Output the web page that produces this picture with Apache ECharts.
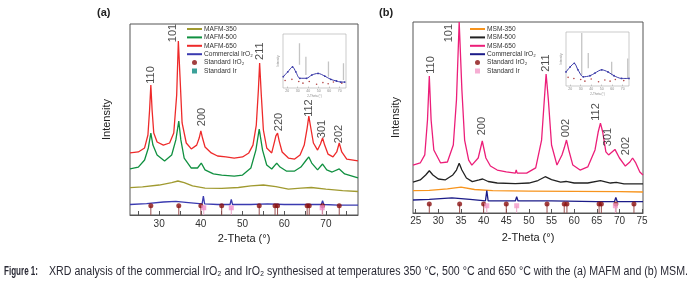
<!DOCTYPE html>
<html><head><meta charset="utf-8">
<script src="https://cdn.jsdelivr.net/npm/echarts@6/dist/echarts.min.js"></script>
<style>html,body{margin:0;padding:0;background:#fff}#c{width:694px;height:289px}</style>
</head><body><div id="c"></div>
<script>
// ---------- DATA (2-Theta in degrees, intensity in a.u.) ----------
// Panel (a) MAFM
const mafm350 = [[23,143],[26,147],[30,157],[33,170],[34.5,178],[36,170],[38,152],[41,141],[45,139],[49,144],[52,152],[55,157],[58,149],[61,136],[64,141],[66.5,144],[70,136],[74,128],[77.7,123]];
const mafm500 = [[23,241],[25,251],[26.5,288],[27.4,351],[28,429],[28.5,366],[29.5,314],[31.3,283],[33,314],[34,393],[34.7,492],[35.2,393],[36,298],[37.7,246],[39.2,246],[40.1,272],[41,236],[43,215],[45,209],[48,204],[50,209],[52,246],[53.2,340],[54,450],[54.8,340],[55.8,262],[57,241],[58.2,272],[59,251],[60.5,230],[62.5,230],[64,251],[65.3,288],[65.9,304],[66.6,272],[68,236],[69.2,267],[70.2,236],[71.5,225],[73.2,241],[74.5,215],[77.7,194]];
const mafm650 = [[23,325],[25,330],[26.5,351],[27.3,419],[27.7,550],[28,681],[28.3,550],[28.7,429],[29.5,382],[31,366],[32.5,377],[33.5,429],[34.2,628],[34.6,911],[35,723],[35.5,482],[36.5,377],[37.7,346],[39,366],[39.6,403],[40,440],[40.4,403],[41,356],[42.5,325],[44,309],[46,304],[48,298],[50,304],[51.5,325],[52.5,366],[53.3,471],[53.8,654],[54.1,796],[54.5,628],[55,445],[55.8,351],[57,325],[57.7,387],[58,414],[58.4,429],[58.8,387],[59.5,330],[61,298],[62.5,293],[63.8,314],[64.8,366],[65.5,455],[65.9,518],[66.3,466],[67,377],[68,340],[68.7,372],[69.2,403],[69.7,366],[70.5,319],[71.7,304],[72.6,330],[73.2,377],[73.8,330],[75,293],[77.7,283]];
const commercialA = [[23,55],[27,60],[31,68],[34,71],[37,65],[40.3,58],[40.6,99],[40.9,58],[44,55],[47,55],[47.3,82],[47.6,55],[52,55],[56,58],[60,55],[65,55],[68.9,55],[69.2,75],[69.5,55],[73,52],[77.7,52]];
const stdIrO2A = [[28.0,49],[34.7,49],[40.0,49],[45.0,49],[54.0,49],[57.8,49],[58.4,49],[65.5,49],[66.0,49],[69.2,49],[73.2,49]];
const stdIrA = [[40.7,38],[47.3,38],[69.1,38]];
const hklA = [['110',28.0,733],['101',33.3,953],['200',40.3,513],['211',54.2,858],['220',58.7,487],['112',65.9,560],['301',69.0,450],['202',73.2,424]];

// Panel (b) MSM
const msm350 = [[24.4,117],[28,118],[32,126],[35,135],[38,123],[42,117],[50,115],[60,113],[70,112],[75.2,110]];
const msm500 = [[24.4,162],[26,173],[27.2,199],[28,221],[28.8,199],[30,178],[31.5,173],[33.2,199],[34,225],[34.6,260],[35.2,225],[36.2,183],[37.5,164],[39,173],[39.8,178],[41,165],[43,157],[47,154],[50,157],[52,170],[53.6,190],[55,175],[57,162],[58.2,165],[60,157],[63,157],[65.8,169],[68,157],[69.3,160],[71,152],[75.2,152]];
const msm650 = [[24.4,251],[26,262],[27,304],[27.6,487],[28,717],[28.4,487],[29,330],[30.5,262],[32,267],[33.3,356],[34,592],[34.6,1000],[35.2,644],[35.8,382],[36.7,277],[37.4,251],[38.8,288],[39.7,377],[40.5,288],[41.5,246],[43,225],[45,215],[47,209],[47.2,225],[47.4,209],[49.5,209],[51.5,236],[52.8,382],[53.4,592],[53.8,728],[54.3,592],[55,356],[56.2,251],[57.3,304],[57.8,340],[58.3,382],[58.8,330],[59.7,251],[61.3,225],[63,241],[64.6,330],[65.3,424],[65.8,471],[66.3,424],[67,320],[67.6,304],[69,333],[70,288],[71.3,246],[72.3,267],[72.9,288],[73.6,262],[74.5,215],[75.2,199]];
const commercialB = [[24.4,68],[28,71],[33,79],[37,71],[40.4,63],[40.7,117],[41,63],[44,63],[47,63],[47.3,85],[47.6,63],[55,63],[65,60],[68.9,60],[69.2,82],[69.5,60],[75.2,60]];
const stdIrO2B = [[28.0,47],[34.7,47],[40.0,47],[45.0,47],[54.0,47],[57.8,47],[58.4,47],[65.5,47],[66.0,47],[69.2,47],[73.2,47]];
const stdIrB = [[40.7,38],[47.3,38],[69.1,38]];
const hklB = [['110',28.3,775],['101',32.4,942],['200',39.7,455],['211',53.8,785],['002',58.2,445],['112',64.8,529],['301',67.5,398],['202',71.5,351]];

// Insets (commercial IrO2 pattern)
const insetA = [[16.3,21],[20.6,30],[25.1,39],[28.2,30],[32,18],[38.4,18],[43.4,24],[49.4,27],[55.8,22],[61.5,16],[66.9,13],[71,11],[74.8,11]];
const insetRefA = [[31.7,43,83],[37.8,24,58],[59.3,21,49],[73.6,15,46]];
const insetDotsA = [[18,14],[24.5,16],[31,12],[35,9],[41,12],[48,7],[54,10],[59,8],[64,11],[72,9]];
const insetB = [[16,26],[19.8,35],[23.9,42],[27.4,30],[32.5,17],[38.9,19],[43.6,24],[50,30],[56,26],[61.7,19],[69,14],[76,14]];
const insetRefB = [[31,20,98],[37.2,33,61],[59.5,20,45],[74.8,14,51]];
const insetDotsB = [[18,16],[23.5,14],[30,12],[34,9],[40,13],[47,8],[53,11],[58,9],[63,12],[71,10]];
const insetTicks = [20,30,40,50,60,70];

const ticksA = [25,30,35,40,45,50,55,60,65,70,75];
const labelsA = [30,40,50,60,70];
const ticksB = [25,30,35,40,45,50,55,60,65,70,75];

const captionBold = 'Figure 1:';
const captionText = 'XRD analysis of the commercial IrO\u2082 and IrO\u2082 synthesised at temperatures 350 \u00b0C, 500 \u00b0C and 650 \u00b0C with the (a) MAFM and (b) MSM.';

// ---------- helpers ----------
function stems(arr){ const out=[]; arr.forEach(p=>{out.push([p[0],0]);out.push([p[0],p[1]]);out.push([p[0],'-']);}); return out; }
function refBars(arr){ const out=[]; arr.forEach(p=>{out.push([p[0],p[1]]);out.push([p[0],p[2]]);out.push([p[0],'-']);}); return out; }
const FONT = 'Liberation Sans, Arial, sans-serif';
const LINE_ICON = 'path://M0 0H30V4H0Z';
const SQUARE_ICON = 'path://M0 0H10V10H0Z';

const chart = echarts.init(document.getElementById('c'), null, {renderer:'canvas'});

function mainX(gi, min, max, ticks, labels, gap, margin){
  return {gridIndex:gi, type:'value', min:min, max:max,
    axisLine:{show:true, lineStyle:{color:'#555', width:1}},
    axisTick:{show:true, inside:true, length:4, customValues:ticks, lineStyle:{color:'#555'}},
    axisLabel:{customValues:labels, fontSize:10, color:'#333', margin:margin, fontFamily:FONT},
    splitLine:{show:false},
    name:'2-Theta (\u00b0)', nameLocation:'middle', nameGap:gap,
    nameTextStyle:{fontSize:11, color:'#222', fontFamily:FONT}};
}
function mainY(gi, gap){
  return {gridIndex:gi, type:'value', min:0, max:1000,
    axisLine:{show:false}, axisTick:{show:false}, axisLabel:{show:false}, splitLine:{show:false},
    name:'Intensity', nameLocation:'middle', nameGap:gap, nameRotate:90,
    nameTextStyle:{fontSize:11, color:'#222', fontFamily:FONT}};
}
function insetX(gi){
  return {gridIndex:gi, type:'value', min:16, max:76,
    axisLine:{show:false}, axisTick:{show:true, inside:true, length:1.5, customValues:insetTicks, lineStyle:{color:'#999', width:0.5}},
    axisLabel:{customValues:insetTicks, fontSize:3.5, color:'#888', margin:1.5},
    splitLine:{show:false}, name:'2-Theta (\u00b0)', nameLocation:'middle', nameGap:5,
    nameTextStyle:{fontSize:3, color:'#888'}};
}
function insetY(gi){
  return {gridIndex:gi, type:'value', min:0, max:100,
    axisLine:{show:false}, axisTick:{show:false}, axisLabel:{show:false}, splitLine:{show:false},
    name:'Intensity', nameLocation:'middle', nameGap:3, nameRotate:90,
    nameTextStyle:{fontSize:3, color:'#888'}};
}
function curve(name, data, color, xi, w){
  return {name:name, type:'line', xAxisIndex:xi, yAxisIndex:xi, data:data, symbol:'none',
    lineStyle:{color:color, width:w||1.3}, itemStyle:{color:color}, z:3, animation:false};
}
function stemSeries(data, color, xi){
  return {type:'line', xAxisIndex:xi, yAxisIndex:xi, data:stems(data), symbol:'none', silent:true,
    lineStyle:{color:color, width:1}, z:4, animation:false};
}
function markers(name, data, color, symbol, size, xi){
  return {name:name, type:'scatter', xAxisIndex:xi, yAxisIndex:xi, data:data, symbol:symbol, symbolSize:size,
    itemStyle:{color:color}, z:5, animation:false};
}
function hkl(data, xi){
  return {type:'scatter', xAxisIndex:xi, yAxisIndex:xi, symbolSize:0, silent:true, animation:false,
    data:data.map(d=>({value:[d[1],d[2]], name:d[0]})),
    label:{show:true, position:'inside', rotate:90, formatter:p=>p.name, fontSize:11, color:'#222', fontFamily:FONT}, z:6};
}
function insetSeries(xi, line, ref, dots){
  return [
    {type:'line', xAxisIndex:xi, yAxisIndex:xi, data:refBars(ref), symbol:'none', lineStyle:{color:'#c4c4c4', width:1.3}, silent:true, animation:false},
    {type:'line', xAxisIndex:xi, yAxisIndex:xi, data:line, symbol:'circle', symbolSize:1.8, showSymbol:true, smooth:0.3,
      lineStyle:{color:'#3a3aa8', width:1}, itemStyle:{color:'#3a3aa8'}, silent:true, animation:false},
    {type:'scatter', xAxisIndex:xi, yAxisIndex:xi, data:dots, symbolSize:1.6, itemStyle:{color:'#a01818'}, silent:true, animation:false}
  ];
}

const legendBase = {orient:'vertical', padding:0, itemWidth:15, itemHeight:5, itemGap:0.4,
  textStyle:{fontSize:6.6, lineHeight:8, color:'#333', fontFamily:FONT, padding:[0,0,0,-3]}, selectedMode:false};
function lineItem(name, color){ return {name:name, icon:LINE_ICON, itemStyle:{color:color, borderWidth:0}}; }

const option = {
  backgroundColor:'#fff',
  animation:false,
  grid:[
    {left:130, top:24, width:228, height:191, show:true, borderColor:'#555', borderWidth:1},
    {left:283, top:34, width:63, height:54, show:true, borderColor:'#aaa', borderWidth:0.6},
    {left:413, top:22, width:230, height:191, show:true, borderColor:'#555', borderWidth:1},
    {left:566, top:32, width:63, height:54, show:true, borderColor:'#aaa', borderWidth:0.6}
  ],
  xAxis:[
    mainX(0, 23, 77.7, ticksA, labelsA, 18, 4),
    insetX(1),
    mainX(2, 24.4, 75.2, ticksB, ticksB, 19, 3),
    insetX(3)
  ],
  yAxis:[ mainY(0, 18), insetY(1), mainY(2, 12), insetY(3) ],
  legend:[
    Object.assign({}, legendBase, {left:187, top:25, data:[
      lineItem('MAFM-350', '#a09a30'),
      lineItem('MAFM-500', '#109040'),
      lineItem('MAFM-650', '#ee2a2a'),
      lineItem('Commercial IrO\u2082', '#3a3ab0'),
      {name:'Standard IrO\u2082', icon:'circle', itemStyle:{color:'#8b1010'}},
      {name:'Standard Ir', icon:SQUARE_ICON, itemStyle:{color:'#0a8a80'}}
    ]}),
    Object.assign({}, legendBase, {left:470, top:25, data:[
      lineItem('MSM-350', '#f7941d'),
      lineItem('MSM-500', '#222222'),
      lineItem('MSM-650', '#ec1e79'),
      lineItem('Commercial IrO\u2082', '#1b1b88'),
      {name:'Standard IrO\u2082', icon:'circle', itemStyle:{color:'#8b1010'}},
      {name:'Standard Ir', icon:SQUARE_ICON, itemStyle:{color:'#f49ac8'}}
    ]})
  ],
  series:[
    curve('MAFM-350', mafm350, '#a09a30', 0),
    curve('MAFM-500', mafm500, '#109040', 0),
    curve('MAFM-650', mafm650, '#ee2a2a', 0),
    curve('Commercial IrO\u2082', commercialA, '#3a3ab0', 0),
    stemSeries(stdIrO2A, '#9a5050', 0),
    stemSeries(stdIrA, '#e9a7c9', 0),
    markers('Standard IrO\u2082', stdIrO2A, '#8b1010', 'circle', 5, 0),
    markers('Standard Ir', stdIrA, '#f08ccc', 'rect', 5, 0),
    hkl(hklA, 0),
    ...insetSeries(1, insetA, insetRefA, insetDotsA),
    curve('MSM-350', msm350, '#f7941d', 2),
    curve('MSM-500', msm500, '#222222', 2),
    curve('MSM-650', msm650, '#ec1e79', 2),
    curve('Commercial IrO\u2082', commercialB, '#1b1b88', 2),
    stemSeries(stdIrO2B, '#9a5050', 2),
    stemSeries(stdIrB, '#e9a7c9', 2),
    markers('Standard IrO\u2082', stdIrO2B, '#8b1010', 'circle', 5, 2),
    markers('Standard Ir', stdIrB, '#f49ac8', 'rect', 5, 2),
    hkl(hklB, 2),
    ...insetSeries(3, insetB, insetRefB, insetDotsB)
  ]
};

// caption: regular sans, horizontally condensed to the caption width of the reference
const cv = document.createElement('canvas').getContext('2d');
cv.font = '12px ' + FONT;
const capScale = 639 / cv.measureText(captionText).width;
cv.font = 'bold 12px ' + FONT;
const figScale = 34 / cv.measureText(captionBold).width;

option.graphic = [
  {type:'text', left:97, top:7, style:{text:'(a)', font:'bold 11px ' + FONT, fill:'#222'}},
  {type:'text', left:379, top:7, style:{text:'(b)', font:'bold 11px ' + FONT, fill:'#222'}},
  {type:'text', x:4, y:266, scaleX:figScale, style:{text:captionBold, font:'bold 12px ' + FONT, fill:'#2a2a35'}},
  {type:'text', x:49, y:266, scaleX:capScale, style:{text:captionText, font:'12px ' + FONT, fill:'#2a2a35'}}
];

chart.setOption(option);
</script></body></html>
